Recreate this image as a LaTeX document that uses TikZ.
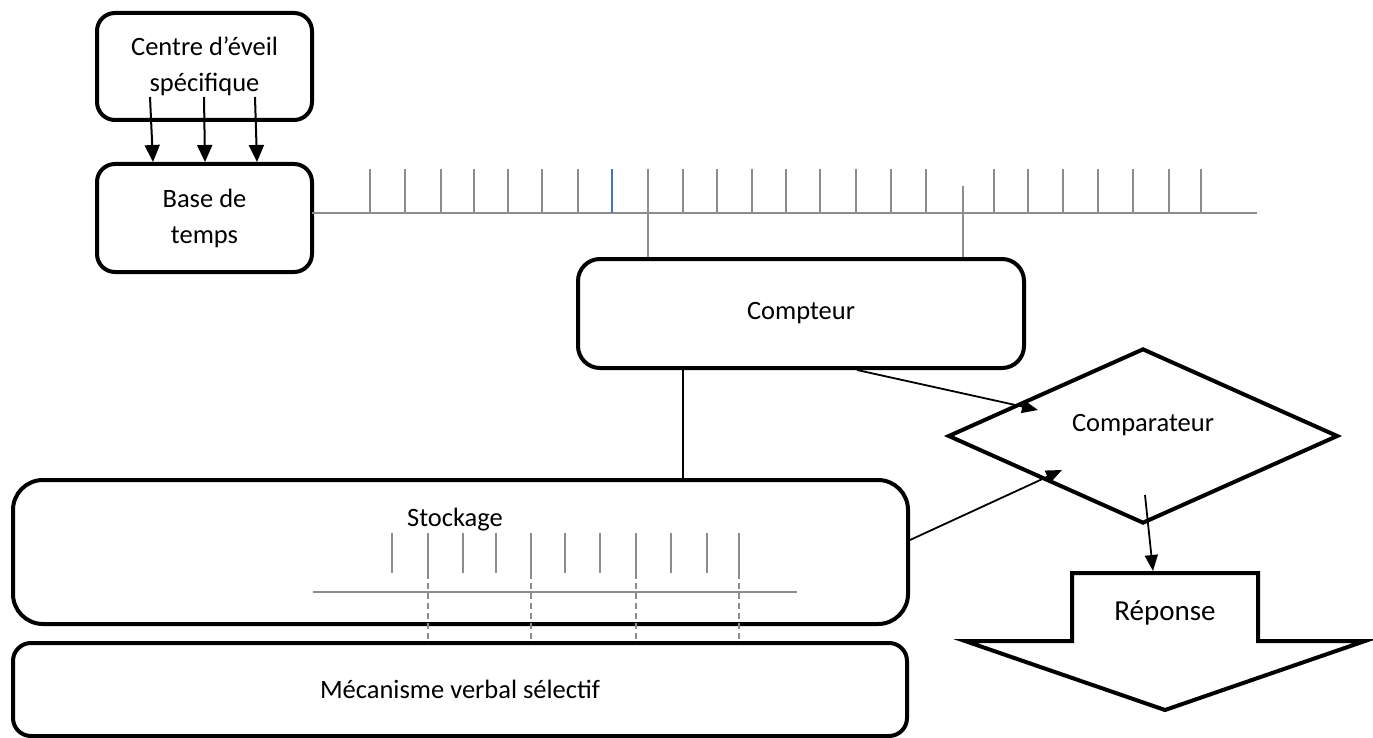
\documentclass[tikz,border=0pt]{standalone}
\usepackage{fontspec}
\setmainfont{Carlito}
\usetikzlibrary{shapes.geometric,arrows.meta}
\definecolor{tickgray}{HTML}{8C8C8C}
\definecolor{tickblue}{HTML}{4472C4}
\begin{document}
\begin{tikzpicture}[x=1pt,y=-1pt,
  every node/.style={font=\fontsize{26.5}{36}\selectfont,inner sep=0pt,align=center},
  box/.style={draw,line width=4pt,rounded corners=#1},
  box/.default=18pt,
  tick/.style={draw=tickgray,line width=2pt},
  arr/.style={-{Triangle[length=17pt,width=15pt]},line width=2pt},
  arrb/.style={-{Triangle[length=16pt,width=13pt]},line width=1.8pt},
]
\useasboundingbox (0,0) rectangle (1373,738);

% --- upper blocks
\node[box,minimum width=215pt,minimum height=107pt] (eveil) at (204.5,66.5) {Centre d’éveil\\spécifique};
\node[box,minimum width=215pt,minimum height=108pt] (base) at (204.5,218) {Base de\\temps};

\coordinate (a1s) at (150,97);  \coordinate (a1e) at (153,162);
\coordinate (a2s) at (204,97);  \coordinate (a2e) at (205,162);
\coordinate (a3s) at (255,97);  \coordinate (a3e) at (257,162);
\draw[arr] (a1s) -- (a1e);
\draw[arr] (a2s) -- (a2e);
\draw[arr] (a3s) -- (a3e);

% --- time base pulses
\coordinate (tl0) at (312,213);
\coordinate (tl1) at (1257,213);
\draw[tick] (tl0) -- (tl1);
\foreach \x in {370,405,441,474,508,542,578,648,683,717,752,786,820,856,891,926,994,1028,1063,1098,1133,1169,1201}
  \draw[tick] (\x,169) -- (\x,213);
\draw[tick,draw=tickblue] (612,169) -- (612,213);

% --- counter
\node[box=22pt,minimum width=446pt,minimum height=109pt] (cpt) at (801,313.5) {Compteur};
\coordinate (g1) at (648,186);
\coordinate (g2) at (963,186);
\draw[tick] (g1) -- (g1 |- cpt.north);
\draw[tick] (g2) -- (g2 |- cpt.north);

% --- storage and verbal mechanism
\node[box=30pt,minimum width=895pt,minimum height=144pt] (stock) at (460.5,552) {};
\node (stocktxt) at (455,520) {Stockage};
\node[box=18pt,minimum width=894pt,minimum height=93pt] (meca) at (460,689.5) {Mécanisme verbal sélectif};

\coordinate (v) at (683,0);
\draw[line width=1.5pt] (cpt.south -| v) -- (stock.north -| v);

\coordinate (s0) at (313,592);
\coordinate (s1) at (797,592);
\draw[tick] (s0) -- (s1);
\foreach \x in {392,428,463,496,531,565,600,636,671,707,739}
  \draw[tick] (\x,533) -- (\x,573);
\foreach \x in {428,531,636,739}
  \draw[tick,line width=2pt,dash pattern=on 6pt off 4pt] (\x,573) -- (\x,643);

% --- comparator
\node[draw,diamond,line width=4pt,minimum width=390pt,minimum height=175pt] (cmp) at (1143,436) {};
\node (cmptxt) at (1143,425) {Comparateur};

\coordinate (k1) at (1038,410);
\coordinate (k2) at (1062,470);
\draw[arrb] ([xshift=56pt]cpt.south) -- (k1);
\draw[arrb] ([yshift=12pt]stock.east) -- (k2);

% --- response arrow
\draw[line width=4pt,line join=miter]
  (1072,573) -- (1258,573) -- (1258,641) -- (1365,641) -- (1165,710)
  -- (965,641) -- (1072,641) -- cycle;
\node[font=\fontsize{29}{36}\selectfont] (rep) at (1165,613) {Réponse};
\coordinate (k3s) at (1145,495);
\coordinate (k3e) at (1153,571);
\draw[arrb] (k3s) -- (k3e);
\end{tikzpicture}
\end{document}
